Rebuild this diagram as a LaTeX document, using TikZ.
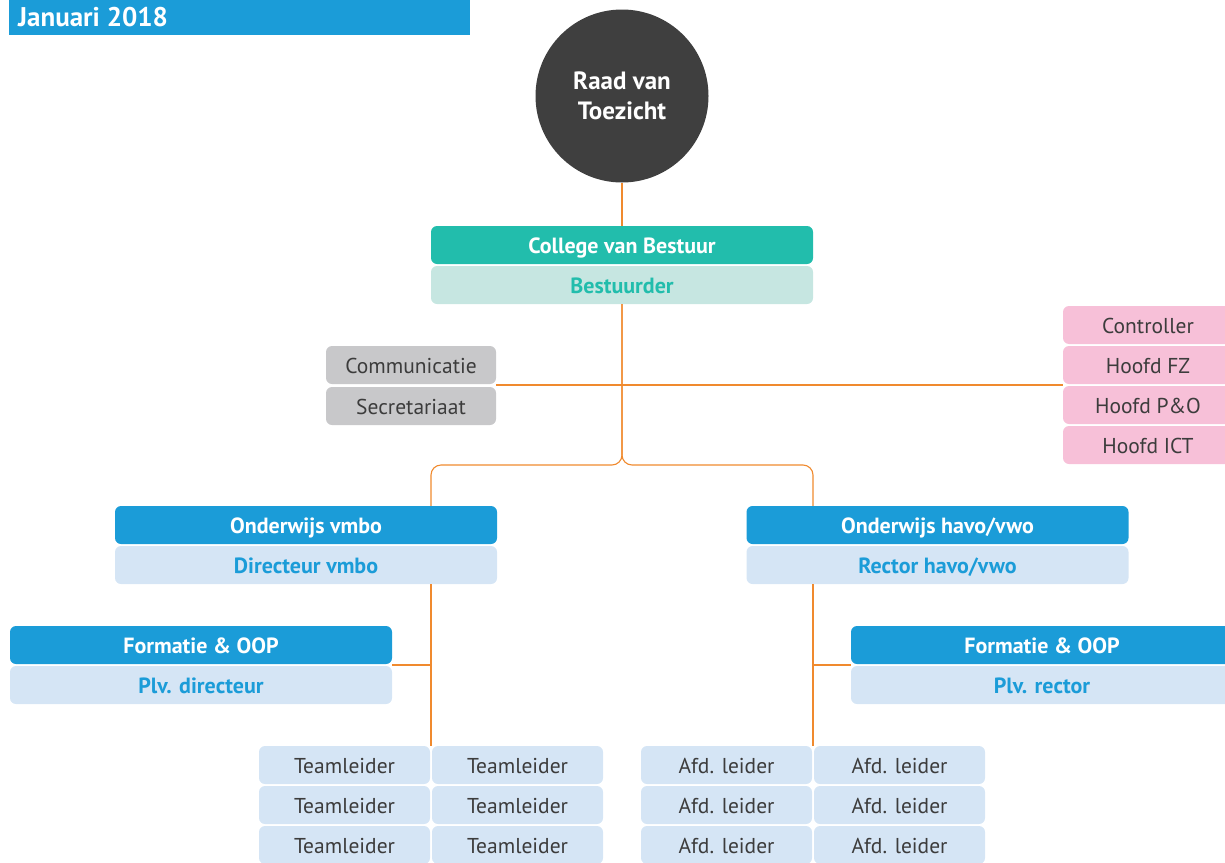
\documentclass[tikz,border=0pt]{standalone}
\usepackage{fontspec}
\setmainfont{PT Sans}
\definecolor{hdrblue}{HTML}{1B9CD8}
\definecolor{darkgray}{HTML}{3F3F3F}
\definecolor{teal}{HTML}{22BDAC}
\definecolor{lteal}{HTML}{C6E6E1}
\definecolor{gbox}{HTML}{C8C8CA}
\definecolor{txtgray}{HTML}{3C3C3C}
\definecolor{pinkbox}{HTML}{F7C0D8}
\definecolor{lblue}{HTML}{D5E5F5}
\definecolor{orng}{HTML}{F08A2E}
\tikzset{
  base/.style={rounded corners=6pt, minimum height=38pt, inner sep=0pt, text height=17.5pt, text depth=0pt, font=\fontsize{21.5}{24}\selectfont},
  headbox/.style={base, minimum width=382pt, fill=#1, text=white, font=\fontsize{22}{24}\selectfont\bfseries},
  subbox/.style={base, minimum width=382pt, fill=#1, font=\fontsize{22}{24}\selectfont\bfseries},
  smallbox/.style={base, minimum width=#1, text=txtgray},
  conn/.style={draw=orng, line width=1.1pt},
}
\begin{document}
\begin{tikzpicture}[x=1pt,y=-1pt]
\useasboundingbox (0,0) rectangle (1225,862);
\clip (0,0) rectangle (1225,862);
% header
\fill[hdrblue] (9,0) rectangle (470,35);
\node[anchor=west, text=white, font=\fontsize{27}{30}\selectfont\bfseries, inner sep=0pt, text height=19pt, text depth=0pt] (hdr) at (18,16.5) {Januari 2018};
% helper coordinates
\coordinate (split) at (622,465);
\coordinate (kl) at (431,465);
\coordinate (kr) at (813,465);
\coordinate (vl) at (431,665);
\coordinate (vr) at (813,665);
\coordinate (hl) at (497,385);
\coordinate (hr) at (1063,385);
% circle
\node[circle, fill=darkgray, minimum size=173pt, inner sep=0pt, text=white, align=center, font=\fontsize{25}{30}\selectfont\bfseries] (rvt) at (622,96) {Raad van\\Toezicht};
% college
\node[headbox=teal] (cvb) at (622,245) {College van Bestuur};
\node[subbox=lteal, text=teal] (bst) at (622,285) {Bestuurder};
% staff left
\node[smallbox=170pt, fill=gbox] (comm) at (411,365) {Communicatie};
\node[smallbox=170pt, fill=gbox] (secr) at (411,406) {Secretariaat};
% staff right
\node[smallbox=170pt, fill=pinkbox] (ctrl) at (1148,325) {Controller};
\node[smallbox=170pt, fill=pinkbox] (hfz) at (1148,365) {Hoofd FZ};
\node[smallbox=170pt, fill=pinkbox] (hpo) at (1148,405) {Hoofd P\&O};
\node[smallbox=170pt, fill=pinkbox] (hict) at (1148,445) {Hoofd ICT};
% education
\node[headbox=hdrblue] (ovmbo) at (306,525) {Onderwijs vmbo};
\node[subbox=lblue, text=hdrblue] (dvmbo) at (306,565) {Directeur vmbo};
\node[headbox=hdrblue] (ohavo) at (937.5,525) {Onderwijs havo/vwo};
\node[subbox=lblue, text=hdrblue] (rhavo) at (937.5,565) {Rector havo/vwo};
% formatie
\node[headbox=hdrblue] (fl) at (201,645) {Formatie \& OOP};
\node[subbox=lblue, text=hdrblue] (pd) at (201,685) {Plv. directeur};
\node[headbox=hdrblue] (fr) at (1042,645) {Formatie \& OOP};
\node[subbox=lblue, text=hdrblue] (pr) at (1042,685) {Plv. rector};
% teamleiders
\foreach \r/\y in {1/765,2/805,3/845}{
  \node[smallbox=171pt, fill=lblue] (tla\r) at (344.5,\y) {Teamleider};
  \node[smallbox=171pt, fill=lblue] (tlb\r) at (517.5,\y) {Teamleider};
  \node[smallbox=171pt, fill=lblue] (afa\r) at (726.5,\y) {Afd. leider};
  \node[smallbox=171pt, fill=lblue] (afb\r) at (899.5,\y) {Afd. leider};
}
% connectors
\draw[conn] (rvt.south) -- (cvb.north);
\draw[conn] (comm.east |- hl) -- (hfz.west |- hr);
\draw[conn, rounded corners=10pt] (bst.south) -- (split) -- (kl) -- (kl |- ovmbo.north);
\draw[conn, rounded corners=10pt] (bst.south) -- (split) -- (kr) -- (kr |- ohavo.north);
\draw[conn] (vl |- dvmbo.south) -- (vl |- tla1.north);
\draw[conn] (fl.east |- vl) -- (vl);
\draw[conn] (vr |- rhavo.south) -- (vr |- afa1.north);
\draw[conn] (fr.west |- vr) -- (vr);
\end{tikzpicture}
\end{document}
